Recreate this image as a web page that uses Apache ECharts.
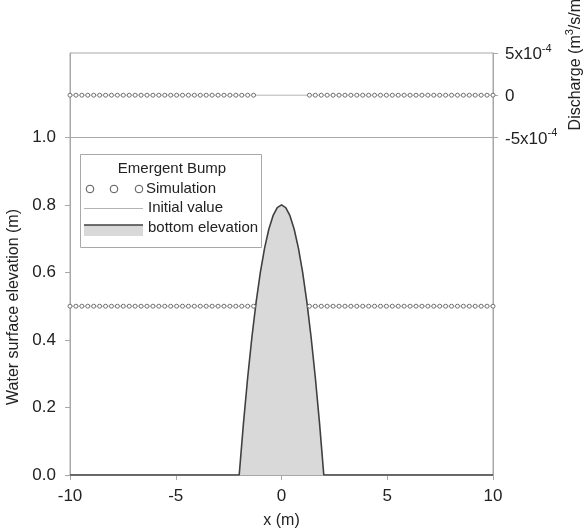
<!DOCTYPE html>
<html>
<head>
<meta charset="utf-8">
<script src="https://cdn.jsdelivr.net/npm/echarts@6/dist/echarts.min.js"></script>
<style>html,body{margin:0;padding:0;background:#fff}#c{width:586px;height:528px}</style>
</head>
<body>
<div id="c"></div>
<script>
// Simulation x positions (left and right of the dry bump crest)
var simXLeft = [-10, -9.72, -9.44, -9.16, -8.88, -8.6, -8.32, -8.04, -7.76, -7.48, -7.2, -6.92, -6.64, -6.36, -6.08, -5.8, -5.52, -5.24, -4.96, -4.68, -4.4, -4.12, -3.84, -3.56, -3.28, -3.0, -2.72, -2.44, -2.16, -1.88, -1.6, -1.32];
var simXRight = [1.32, 1.6, 1.88, 2.16, 2.44, 2.72, 3.0, 3.28, 3.56, 3.84, 4.12, 4.4, 4.68, 4.96, 5.24, 5.52, 5.8, 6.08, 6.36, 6.64, 6.92, 7.2, 7.48, 7.76, 8.04, 8.32, 8.6, 8.88, 9.16, 9.44, 9.72, 10];
var simElevLeft = [0.5,0.5,0.5,0.5,0.5,0.5,0.5,0.5,0.5,0.5,0.5,0.5,0.5,0.5,0.5,0.5,0.5,0.5,0.5,0.5,0.5,0.5,0.5,0.5,0.5,0.5,0.5,0.5,0.5,0.5,0.5,0.5];
var simElevRight = [0.5,0.5,0.5,0.5,0.5,0.5,0.5,0.5,0.5,0.5,0.5,0.5,0.5,0.5,0.5,0.5,0.5,0.5,0.5,0.5,0.5,0.5,0.5,0.5,0.5,0.5,0.5,0.5,0.5,0.5,0.5,0.5];
var simQLeft = [0,0,0,0,0,0,0,0,0,0,0,0,0,0,0,0,0,0,0,0,0,0,0,0,0,0,0,0,0,0,0,0];
var simQRight = [0,0,0,0,0,0,0,0,0,0,0,0,0,0,0,0,0,0,0,0,0,0,0,0,0,0,0,0,0,0,0,0];
// Initial values
var initX = [-10, 10];
var initElev = [0.5, 0.5];
var initQ = [0, 0];
// Bottom elevation
var bedX = [-10, -2, -1.8, -1.6, -1.4, -1.2, -1.0, -0.8, -0.6, -0.4, -0.2, 0, 0.2, 0.4, 0.6, 0.8, 1.0, 1.2, 1.4, 1.6, 1.8, 2, 10];
var bedZ = [0, 0, 0.152, 0.288, 0.408, 0.512, 0.6, 0.672, 0.728, 0.768, 0.792, 0.8, 0.792, 0.768, 0.728, 0.672, 0.6, 0.512, 0.408, 0.288, 0.152, 0, 0];
// Tick labels
var xTicks = [-10, -5, 0, 5, 10];
var leftTicks = [0, 0.2, 0.4, 0.6, 0.8, 1.0];
var rightTicks = [-0.0005, 0, 0.0005];

function zip(a, b) { return a.map(function (v, i) { return [v, b[i]]; }); }

var FONT = 'Liberation Sans';
var TXT = '#222';
var AX = '#a8a8a8';

var chart = echarts.init(document.getElementById('c'), null, {renderer: 'canvas'});
var simStyle = {
  type: 'line', showSymbol: true, symbol: 'circle', symbolSize: 4,
  lineStyle: {width: 0, opacity: 0},
  itemStyle: {color: '#fff', borderColor: '#707070', borderWidth: 1},
  z: 5, silent: true, animation: false
};
chart.setOption({
  animation: false,
  textStyle: {fontFamily: FONT},
  grid: {left: 70, right: 93, top: 53, bottom: 53, show: true, borderColor: AX, borderWidth: 1,
    backgroundColor: 'transparent', containLabel: false, outerBoundsMode: 'none'},
  xAxis: {
    type: 'value', min: -10, max: 10, interval: 5,
    name: 'x (m)', nameLocation: 'middle', nameGap: 38,
    nameTextStyle: {fontSize: 16, color: TXT, fontFamily: FONT},
    axisLine: {show: true, onZero: false, lineStyle: {color: AX}},
    axisTick: {show: true, inside: false, length: 5, lineStyle: {color: AX}, customValues: xTicks},
    axisLabel: {fontSize: 17, color: TXT, margin: 13, fontFamily: FONT, customValues: xTicks},
    splitLine: {show: false}
  },
  yAxis: [{
    type: 'value', min: 0, max: 1.25, position: 'left',
    name: 'Water surface elevation (m)', nameLocation: 'middle', nameGap: 46,
    nameTextStyle: {fontSize: 16, color: TXT, fontFamily: FONT, padding: [0, 86, 0, 0]},
    axisLine: {show: true, onZero: false, lineStyle: {color: AX}},
    axisTick: {show: true, inside: false, length: 5, lineStyle: {color: AX}, customValues: leftTicks},
    axisLabel: {fontSize: 17, color: TXT, margin: 14, fontFamily: FONT, customValues: leftTicks,
      formatter: function (v) { return v.toFixed(1); }},
    splitLine: {show: false}
  }, {
    type: 'value', min: -0.0045, max: 0.0005, position: 'right', alignTicks: false,
    axisLine: {show: true, onZero: false, lineStyle: {color: AX}},
    axisTick: {show: true, inside: false, length: 5, lineStyle: {color: AX}, customValues: rightTicks},
    axisLabel: {fontSize: 17, color: TXT, margin: 12, fontFamily: FONT, customValues: rightTicks,
      formatter: function (v) {
        if (Math.abs(v) < 1e-9) return '{a|0}';
        return (v < 0 ? '{a|-5x10}' : '{a|5x10}') + '{s|-4}';
      },
      rich: {
        a: {fontSize: 17, color: TXT, fontFamily: FONT, lineHeight: 20, verticalAlign: 'bottom'},
        s: {fontSize: 11, color: TXT, fontFamily: FONT, lineHeight: 20, verticalAlign: 'top'}
      }},
    splitLine: {show: false}
  }],
  series: [
    {type: 'line', name: 'Initial value', data: zip(initX, initElev), yAxisIndex: 0, showSymbol: false,
     lineStyle: {color: '#b4b4b4', width: 1}, z: 2, silent: true,
     markLine: {silent: true, symbol: 'none', label: {show: false},
       lineStyle: {color: AX, width: 1, type: 'solid'}, data: [{yAxis: 1.0}]}},
    {type: 'line', name: 'Initial Q', data: zip(initX, initQ), yAxisIndex: 1, showSymbol: false,
     lineStyle: {color: '#b4b4b4', width: 1}, z: 2, silent: true},
    {type: 'line', name: 'bottom elevation', data: zip(bedX, bedZ), yAxisIndex: 0, showSymbol: false,
     lineStyle: {color: '#404040', width: 1.6}, areaStyle: {color: '#d9d9d9', opacity: 1}, z: 3, silent: true},
    Object.assign({name: 'Simulation', data: zip(simXLeft, simElevLeft), yAxisIndex: 0}, simStyle),
    Object.assign({name: 'Simulation', data: zip(simXRight, simElevRight), yAxisIndex: 0}, simStyle),
    Object.assign({name: 'Simulation Q', data: zip(simXLeft, simQLeft), yAxisIndex: 1}, simStyle),
    Object.assign({name: 'Simulation Q', data: zip(simXRight, simQRight), yAxisIndex: 1}, simStyle)
  ],
  graphic: [
    {type: 'text', x: 574, y: 62, rotation: Math.PI / 2, silent: true,
     style: {text: '{a|Discharge (m}{s|3}{a|/s/m)}', align: 'center', verticalAlign: 'middle',
       rich: {
         a: {fontSize: 16, fill: TXT, fontFamily: FONT, lineHeight: 20, verticalAlign: 'bottom'},
         s: {fontSize: 11, fill: TXT, fontFamily: FONT, lineHeight: 20, verticalAlign: 'top'}
       }}},
    {type: 'group', silent: true, children: [
      {type: 'rect', shape: {x: 80.5, y: 154.5, width: 181, height: 93}, style: {fill: '#fff', stroke: AX, lineWidth: 1}},
      {type: 'text', x: 172, y: 169, style: {text: 'Emergent Bump', fontSize: 15, fill: TXT, fontFamily: FONT, align: 'center', verticalAlign: 'middle'}},
      {type: 'circle', shape: {cx: 90, cy: 189, r: 3.8}, style: {fill: '#fff', stroke: '#555', lineWidth: 1}},
      {type: 'circle', shape: {cx: 114, cy: 189, r: 3.8}, style: {fill: '#fff', stroke: '#555', lineWidth: 1}},
      {type: 'circle', shape: {cx: 139, cy: 189, r: 3.8}, style: {fill: '#fff', stroke: '#555', lineWidth: 1}},
      {type: 'text', x: 146, y: 189, style: {text: 'Simulation', fontSize: 15, fill: TXT, fontFamily: FONT, align: 'left', verticalAlign: 'middle'}},
      {type: 'line', shape: {x1: 84, y1: 208.5, x2: 143, y2: 208.5}, style: {stroke: '#b4b4b4', lineWidth: 1}},
      {type: 'text', x: 148, y: 208, style: {text: 'Initial value', fontSize: 15, fill: TXT, fontFamily: FONT, align: 'left', verticalAlign: 'middle'}},
      {type: 'rect', shape: {x: 84, y: 225, width: 59, height: 11}, style: {fill: '#d9d9d9'}},
      {type: 'line', shape: {x1: 84, y1: 225, x2: 143, y2: 225}, style: {stroke: '#404040', lineWidth: 1.6}},
      {type: 'text', x: 148, y: 228, style: {text: 'bottom elevation', fontSize: 15, fill: TXT, fontFamily: FONT, align: 'left', verticalAlign: 'middle'}}
    ]}
  ]
});
</script>
</body>
</html>
